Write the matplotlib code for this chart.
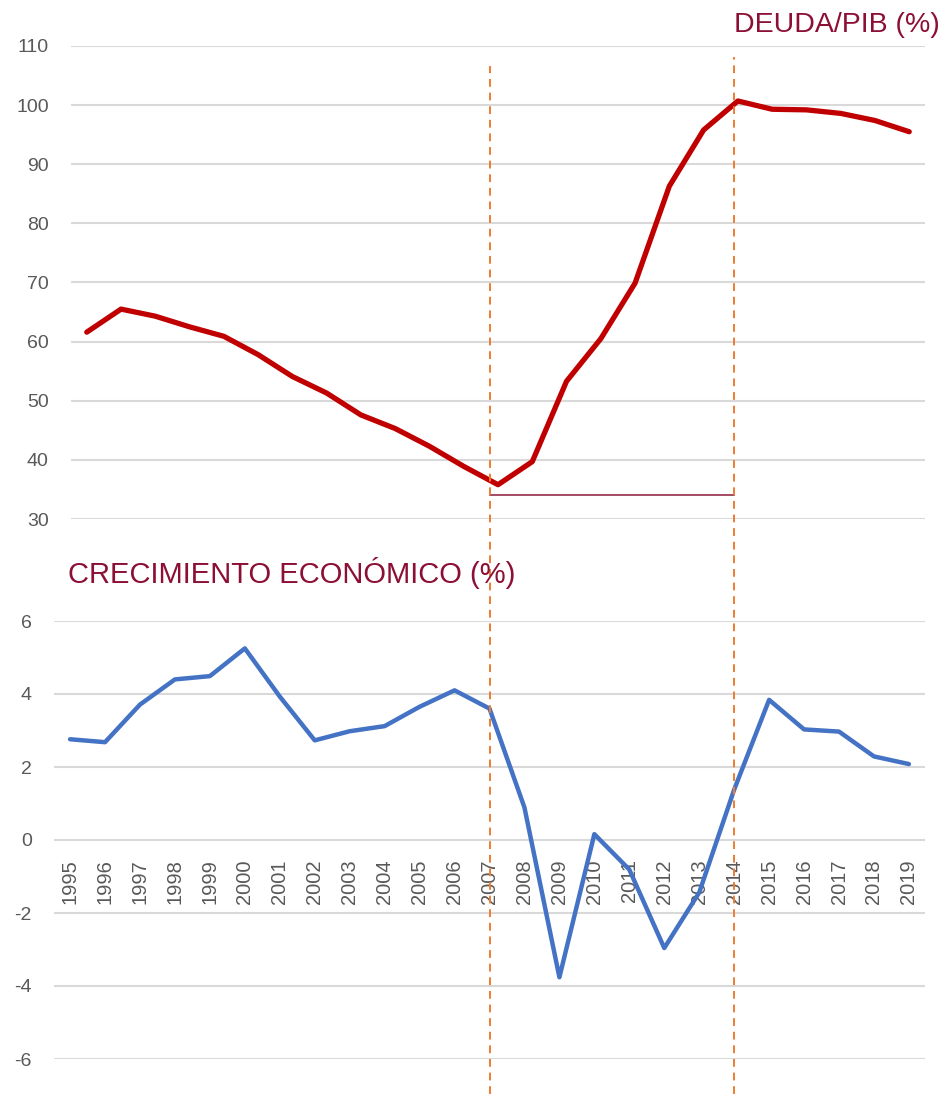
import matplotlib
matplotlib.use("Agg")
import matplotlib.pyplot as plt
import matplotlib.transforms as mtransforms

plt.rcParams['font.family'] = ['Liberation Sans', 'DejaVu Sans']
plt.rcParams['axes.unicode_minus'] = False

# Data (Spain): public debt / GDP and GDP growth
years = list(range(1995, 2020))
deuda_pib = [61.6, 65.5, 64.3, 62.5, 60.9, 57.8, 54.1, 51.3, 47.6, 45.3,
             42.3, 38.9, 35.8, 39.7, 53.3, 60.5, 69.9, 86.3, 95.8, 100.7,
             99.3, 99.2, 98.6, 97.4, 95.5]
crecimiento = [2.76, 2.68, 3.71, 4.40, 4.49, 5.25, 3.93, 2.73, 2.98, 3.12,
               3.65, 4.10, 3.60, 0.89, -3.76, 0.16, -0.81, -2.96, -1.44, 1.38,
               3.84, 3.03, 2.97, 2.29, 2.08]
marcas = [2007, 2014]      # crisis period boundaries
nivel_base = 34            # reference line under the debt minimum
top_ticks = list(range(30, 111, 10))
bot_ticks = list(range(-6, 7, 2))

W, H = 945, 1094
fig = plt.figure(figsize=(W / 100, H / 100), dpi=100)

grid_c = '#D9D9D9'
lab_c = '#595959'
title_c = '#8C0F35'

# top panel: debt
ax1 = fig.add_axes([71 / W, 1 - 519 / H, 854 / W, 473 / H])
ax1.plot(years, deuda_pib, color='#C00000', lw=3.8, solid_capstyle='round',
         solid_joinstyle='round', zorder=3)
ax1.set_ylim(30, 110)
ax1.set_yticks(top_ticks)
ax1.set_xlim(years[0] - 0.46, years[-1] + 0.46)
ax1.set_xticks([])

# bottom panel: growth
ax2 = fig.add_axes([54 / W, 1 - 1059 / H, 871 / W, 438 / H])
ax2.plot(years, crecimiento, color='#4472C4', lw=3.2, solid_capstyle='round',
         solid_joinstyle='round', zorder=3)
ax2.set_ylim(-6, 6)
ax2.set_yticks(bot_ticks)
ax2.set_xlim(years[0] - 0.46, years[-1] + 0.46)
ax2.spines['bottom'].set_position(('data', 0))
ax2.set_xticks(years)
ax2.set_xticklabels([str(y) for y in years], rotation=90, fontsize=14.5, color=lab_c,
                    va='top', ha='center')
ax2.tick_params(axis='x', length=0, pad=14)

for ax in (ax1, ax2):
    for s in ax.spines.values():
        s.set_visible(False)
    ax.grid(axis='y', color=grid_c, lw=1.5, zorder=0)
    ax.tick_params(axis='y', length=0, pad=16, labelsize=14, labelcolor=lab_c)
    ax.set_axisbelow(True)

# reference line under the debt minimum, between the two markers
trans_h = mtransforms.blended_transform_factory(ax2.transData, ax1.transData)
ax1.plot(marcas, [nivel_base, nivel_base], transform=trans_h, color='#8B1A3A',
         lw=1.1, zorder=3, clip_on=False)

# dashed vertical markers spanning both panels
trans = mtransforms.blended_transform_factory(ax2.transData, fig.transFigure)
for m, top in zip(marcas, [1 - 66 / H, 1 - 57 / H]):
    ax2.plot([m, m], [0, top], transform=trans, color='#ED7D31', lw=1.4,
             ls=(0, (4, 3)), clip_on=False, zorder=4)

fig.text(940 / W, 1 - 25 / H, 'DEUDA/PIB (%)', ha='right', va='center',
         fontsize=20.5, color=title_c)
fig.text(68 / W, 1 - 573 / H, 'CRECIMIENTO ECONÓMICO (%)', ha='left', va='center',
         fontsize=21, color=title_c)

fig.savefig('out.png', dpi=100, facecolor='white')
